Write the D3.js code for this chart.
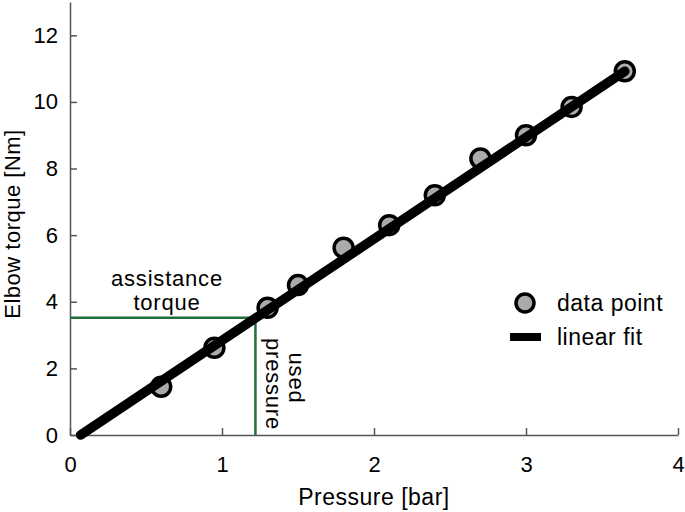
<!DOCTYPE html>
<html>
<head>
<meta charset="utf-8">
<script src="https://cdn.jsdelivr.net/npm/d3@7/dist/d3.min.js"></script>
<style>
  body { margin: 0; background: #fff; }
  svg { display: block; font-family: "Liberation Sans", Arial, sans-serif; }
  .axis path, .axis line { stroke: #555; stroke-width: 1.5; }
  .axis text { font-size: 22px; fill: #000; font-family: "Liberation Sans", Arial, sans-serif; }
  .lbl { font-size: 23px; fill: #000; letter-spacing: 0.5px; }
  .note { font-size: 22px; fill: #000; letter-spacing: 0.8px; }
</style>
</head>
<body>
<svg width="685" height="512"></svg>
<script>
// measured points
var pressure = [0.6, 0.95, 1.3, 1.5, 1.8, 2.1, 2.4, 2.7, 3.0, 3.3, 3.65];
var torque = [1.45, 2.62, 3.82, 4.5, 5.62, 6.3, 7.2, 8.3, 9.0, 9.85, 10.92];

// linear fit end points
var fitX = [0.07, 3.65];
var fitY = [0, 10.92];

// operating point (used pressure / assistance torque)
var usedPressure = 1.22;
var assistTorque = 3.52;

var xTicks = [0, 1, 2, 3, 4];
var yTicks = [0, 2, 4, 6, 8, 10, 12];

function drawGraphic() {
  var svg = d3.select("svg");

  var x = d3.scaleLinear().domain([0, 4]).range([70, 678]);
  var y = d3.scaleLinear().domain([0, 13]).range([435, 2]);

  svg.append("g")
    .attr("class", "axis")
    .attr("transform", "translate(0," + y(0) + ")")
    .call(d3.axisBottom(x).tickValues(xTicks).tickFormat(d3.format("d"))
      .tickSizeInner(-7).tickSizeOuter(0).tickPadding(21));

  svg.append("g")
    .attr("class", "axis")
    .attr("transform", "translate(" + x(0) + ",0)")
    .call(d3.axisLeft(y).tickValues(yTicks).tickFormat(d3.format("d"))
      .tickSizeInner(-7).tickSizeOuter(0).tickPadding(12));

  // green guide lines
  var green = "#1f6e3c";
  svg.append("line")
    .attr("x1", x(0)).attr("x2", x(usedPressure))
    .attr("y1", y(assistTorque)).attr("y2", y(assistTorque))
    .attr("stroke", green).attr("stroke-width", 2.5);
  svg.append("line")
    .attr("x1", x(usedPressure)).attr("x2", x(usedPressure))
    .attr("y1", y(assistTorque)).attr("y2", y(0))
    .attr("stroke", green).attr("stroke-width", 2.5);

  // data points
  var pts = pressure.map(function(p, i) { return {x: p, y: torque[i]}; });
  svg.append("g").selectAll("circle")
    .data(pts).enter().append("circle")
    .attr("cx", function(d) { return x(d.x); })
    .attr("cy", function(d) { return y(d.y); })
    .attr("r", 9.5)
    .attr("fill", "#aaaaaa")
    .attr("stroke", "#000")
    .attr("stroke-width", 3.5);

  // fit line over the points
  var line = d3.line()
    .x(function(d) { return x(d[0]); })
    .y(function(d) { return y(d[1]); });
  svg.append("path")
    .datum(fitX.map(function(v, i) { return [v, fitY[i]]; }))
    .attr("d", line)
    .attr("fill", "none")
    .attr("stroke", "#000")
    .attr("stroke-width", 9.5)
    .attr("stroke-linecap", "round");

  // annotations
  svg.append("text").attr("class", "note").attr("x", 167).attr("y", 286)
    .attr("text-anchor", "middle").text("assistance");
  svg.append("text").attr("class", "note").attr("x", 167).attr("y", 310)
    .attr("text-anchor", "middle").text("torque");
  svg.append("text").attr("class", "note")
    .attr("transform", "translate(266,384) rotate(90)")
    .attr("text-anchor", "middle").text("pressure");
  svg.append("text").attr("class", "note")
    .attr("transform", "translate(289,378) rotate(90)")
    .attr("text-anchor", "middle").text("used");

  // legend
  svg.append("circle").attr("cx", 525).attr("cy", 303).attr("r", 9)
    .attr("fill", "#aaaaaa").attr("stroke", "#000").attr("stroke-width", 3.5);
  svg.append("text").attr("class", "lbl").attr("x", 557).attr("y", 311).text("data point");
  svg.append("line").attr("x1", 510).attr("x2", 541).attr("y1", 337).attr("y2", 337)
    .attr("stroke", "#000").attr("stroke-width", 8);
  svg.append("text").attr("class", "lbl").attr("x", 557).attr("y", 345).text("linear fit");

  // axis labels
  svg.append("text").attr("class", "lbl").attr("x", 374).attr("y", 505)
    .attr("text-anchor", "middle").text("Pressure [bar]");
  svg.append("text").attr("class", "lbl")
    .attr("transform", "translate(20,224) rotate(-90)")
    .attr("text-anchor", "middle").style("font-size", "22px").style("letter-spacing", "0.5px")
    .text("Elbow torque [Nm]");
}

drawGraphic();
</script>
</body>
</html>
